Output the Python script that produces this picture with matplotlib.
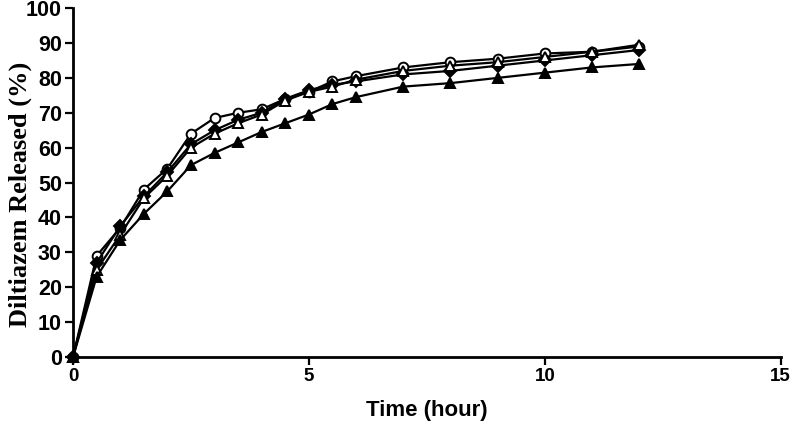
import matplotlib
matplotlib.use("Agg")
import matplotlib.pyplot as plt

time_h = [0, 0.5, 1, 1.5, 2, 2.5, 3, 3.5, 4, 4.5, 5, 5.5, 6, 7, 8, 9, 10, 11, 12]
open_circles = [0, 29, 37, 48, 54, 64, 68.5, 70, 71, 74, 76, 79, 80.5, 83, 84.5, 85.5, 87, 87.5, 89]
filled_diamonds = [0, 27, 37.5, 46, 53, 61, 65, 68, 70, 74, 76.5, 78, 79, 81, 82, 83.5, 85, 86.5, 88]
open_triangles = [0, 25, 35, 45.5, 52, 60, 64, 67, 69.5, 73.5, 76, 77.5, 79.5, 82, 83.5, 84.5, 86, 87.5, 89.5]
filled_triangles = [0, 23, 33.5, 41, 47.5, 55, 58.5, 61.5, 64.5, 67, 69.5, 72.5, 74.5, 77.5, 78.5, 80, 81.5, 83, 84]

x_ticks = [0, 5, 10, 15]
y_ticks = list(range(0, 101, 10))

fig = plt.figure(figsize=(7.99, 4.28), dpi=100)
ax = fig.add_axes([0.0914, 0.166, 0.8856, 0.815])

series = [
    (open_circles, 'o', 'white'),
    (filled_diamonds, 'D', 'black'),
    (open_triangles, '^', 'white'),
    (filled_triangles, '^', 'black'),
]
for vals, m, fc in series:
    ax.plot(time_h, vals, color='black', linewidth=1.6, marker=m,
            markerfacecolor=fc, markeredgecolor='black', markeredgewidth=1.4,
            markersize=7 if m != 'D' else 6, clip_on=False, zorder=3)

ax.set_xlim(0, 15)
ax.set_ylim(0, 100)
ax.set_xticks(x_ticks)
ax.set_yticks(y_ticks)
for s in ['top', 'right']:
    ax.spines[s].set_visible(False)
for s in ['left', 'bottom']:
    ax.spines[s].set_linewidth(2.0)
ax.tick_params(direction='out', length=6, width=1.6, pad=2)
for lbl in ax.get_yticklabels():
    lbl.set_fontfamily('Liberation Sans')
    lbl.set_fontweight('bold')
    lbl.set_fontsize(15.5)
for lbl in ax.get_xticklabels():
    lbl.set_fontfamily('Liberation Sans')
    lbl.set_fontweight('bold')
    lbl.set_fontsize(13.5)
ax.set_xlabel('Time (hour)', fontfamily='Liberation Sans', fontweight='bold',
              fontsize=16, labelpad=11)
ax.set_ylabel('Diltiazem Released (%)', fontfamily='Liberation Serif',
              fontweight='bold', fontsize=19)
ax.yaxis.set_label_coords(-0.058, 0.465)

fig.savefig('out.png', dpi=100)
